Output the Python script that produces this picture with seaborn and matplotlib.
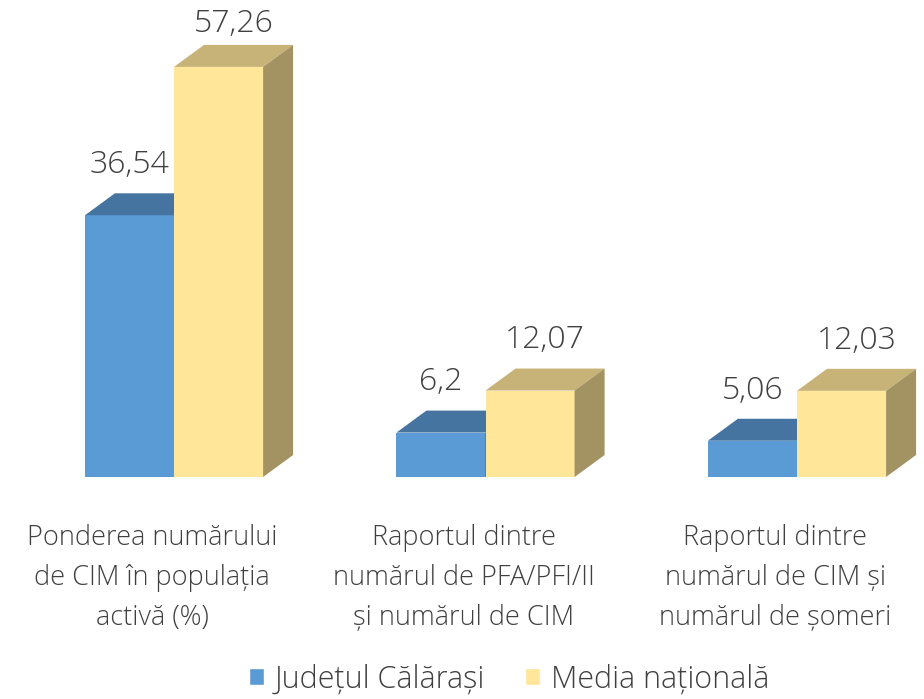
import pandas as pd
import matplotlib.pyplot as plt
import seaborn as sns
from matplotlib import font_manager as fm
from matplotlib.patches import Polygon, Patch

# Data
categories = [
    "Ponderea numărului\nde CIM în populația\nactivă (%)",
    "Raportul dintre\nnumărul de PFA/PFI/II\nși numărul de CIM",
    "Raportul dintre\nnumărul de CIM și\nnumărul de șomeri",
]
series = ["Județul Călărași", "Media națională"]
calarasi = [36.54, 6.2, 5.06]
national = [57.26, 12.07, 12.03]
value_labels = [["36,54", "6,2", "5,06"], ["57,26", "12,07", "12,03"]]

df = pd.DataFrame({
    "cat": [0, 1, 2] * 2,
    "val": calarasi + national,
    "series": [series[0]] * 3 + [series[1]] * 3,
})

front = ["#5B9BD5", "#FFE699"]
top_col = ["#44749F", "#C7B377"]
side_col = ["#3A6590", "#A39362"]
text_col = "#404040"

# pick a light-weight, normal-width font if one is installed
light_file = None
for fam in ["Open Sans", "Noto Sans", "Lato", "Roboto"]:
    for f in fm.fontManager.ttflist:
        w = f.weight if isinstance(f.weight, int) else 400
        if (f.name == fam and 250 <= w <= 300 and f.style == "normal"
                and f.stretch == "normal" and "ondensed" not in f.fname):
            light_file = f.fname
            break
    if light_file:
        break
if light_file:
    fp = lambda s: fm.FontProperties(fname=light_file, size=s)
else:
    fp = lambda s: fm.FontProperties(family="Open Sans", size=s)

sns.set_style("white")
plt.rcParams["font.family"] = ["Open Sans", "DejaVu Sans"]

fig = plt.figure(figsize=(9.24, 6.99), dpi=100)
ax = fig.add_axes([0, 0, 1, 1])

sns.barplot(data=df, x="cat", y="val", hue="series", hue_order=series,
            palette=front, width=0.572, saturation=1, legend=False, ax=ax)

# 3D depth offset (data units)
dx, dy = 0.0963, 3.07

for i, cont in enumerate(ax.containers):
    for j, bar in enumerate(cont.patches):
        bar.set_zorder(2 + 2 * i)
        bar.set_linewidth(0)
        x0, w, h = bar.get_x(), bar.get_width(), bar.get_height()
        top = Polygon([(x0, h), (x0 + w, h), (x0 + w + dx, h + dy), (x0 + dx, h + dy)],
                      closed=True, facecolor=top_col[i], edgecolor="none", zorder=2.5 + 2 * i)
        side = Polygon([(x0 + w, 0), (x0 + w + dx, dy), (x0 + w + dx, h + dy), (x0 + w, h)],
                       closed=True, facecolor=side_col[i], edgecolor="none", zorder=2.5 + 2 * i)
        ax.add_patch(top)
        ax.add_patch(side)
        lx = x0 + w / 2 + (dx * 0.5 if i == 1 else 0)
        ly = h + 7 if h < 50 else h + 6
        ax.text(lx, ly, value_labels[i][j], ha="center", va="center",
                fontproperties=fp(23), color=text_col, zorder=10)

for k, cat in enumerate(categories):
    ax.text(k - 0.07, -14.1, cat, ha="center", va="center", fontproperties=fp(19.5),
            color=text_col, linespacing=1.55)

ax.set_xlim(-0.5586, 2.4077)
ax.set_ylim(-31.0, 66.6)
ax.axis("off")

handles = [Patch(facecolor=front[0]), Patch(facecolor=front[1])]
fig.legend(handles, series, loc="lower center", bbox_to_anchor=(0.551, -0.034), ncol=2,
           frameon=False, handlelength=0.5, handleheight=0.5, handletextpad=0.35,
           columnspacing=1.3, prop=fp(22), labelcolor=text_col)

fig.savefig("out.png", dpi=100)
